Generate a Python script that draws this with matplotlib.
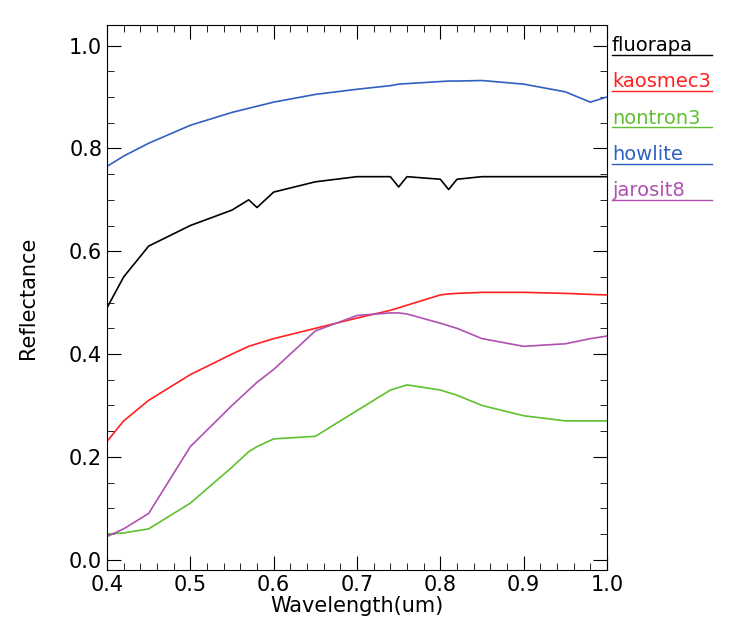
import matplotlib
matplotlib.use("Agg")
import matplotlib.pyplot as plt
import numpy as np

wl = [0.40,0.42,0.45,0.50,0.55,0.57,0.58,0.60,0.65,0.70,0.74,0.75,0.76,0.80,0.81,0.82,0.85,0.90,0.95,0.98,1.00]
fluorapa = [0.49,0.55,0.61,0.65,0.68,0.70,0.685,0.715,0.735,0.745,0.745,0.725,0.745,0.74,0.72,0.74,0.745,0.745,0.745,0.745,0.745]
kaosmec3 = [0.23,0.27,0.31,0.36,0.40,0.415,0.42,0.43,0.45,0.47,0.485,0.49,0.495,0.515,0.517,0.518,0.52,0.52,0.518,0.516,0.515]
nontron3 = [0.05,0.052,0.06,0.11,0.18,0.21,0.22,0.235,0.24,0.29,0.33,0.335,0.34,0.33,0.325,0.32,0.30,0.28,0.27,0.27,0.27]
howlite = [0.765,0.785,0.81,0.845,0.87,0.878,0.882,0.89,0.905,0.915,0.922,0.925,0.926,0.93,0.931,0.931,0.932,0.925,0.91,0.89,0.90]
jarosit8 = [0.045,0.06,0.09,0.22,0.30,0.33,0.345,0.37,0.445,0.475,0.48,0.48,0.478,0.46,0.455,0.45,0.43,0.415,0.42,0.43,0.435]

names = ["fluorapa","kaosmec3","nontron3","howlite","jarosit8"]
series = [fluorapa,kaosmec3,nontron3,howlite,jarosit8]
colors = ["black","#ff2020","#60c030","#3060c0","#b050b0"]

plt.rcParams['font.family'] = ['DejaVu Sans']
fig = plt.figure(figsize=(7.56,6.37), dpi=100)
ax = fig.add_axes([107/756, 1-570/637, 500/756, (570-25)/637])
for s,c in zip(series,colors):
    ax.plot(wl, s, color=c, lw=1.2)
ax.set_xlim(0.4,1.0)
ax.set_ylim(-0.02,1.04)
ax.set_xticks(np.arange(0.4,1.01,0.1))
ax.set_xticklabels(["0.4","0.5","0.6","0.7","0.8","0.9","1.0"])
ax.set_yticks(np.arange(0,1.01,0.2))
ax.set_yticklabels(["0.0","0.2","0.4","0.6","0.8","1.0"])
ax.minorticks_on()
ax.tick_params(which='both', direction='in', top=True, right=True, labelsize=15)
ax.tick_params(which='major', length=10)
ax.tick_params(which='minor', length=5)
ax.set_xlabel("Wavelength(um)", fontsize=15, labelpad=1)
ax.set_ylabel("Reflectance", fontsize=15, labelpad=22)
for i,(n,c) in enumerate(zip(names,colors)):
    y = 0.975 - i*0.057
    fig.text(612/756, y - 0.055, n, color=c, fontsize=14, transform=fig.transFigure)
    fig.lines.append(plt.Line2D([612/756, 712/756],[y-0.061,y-0.061], color=c, lw=1, transform=fig.transFigure))
fig.savefig("out.png", dpi=100)
